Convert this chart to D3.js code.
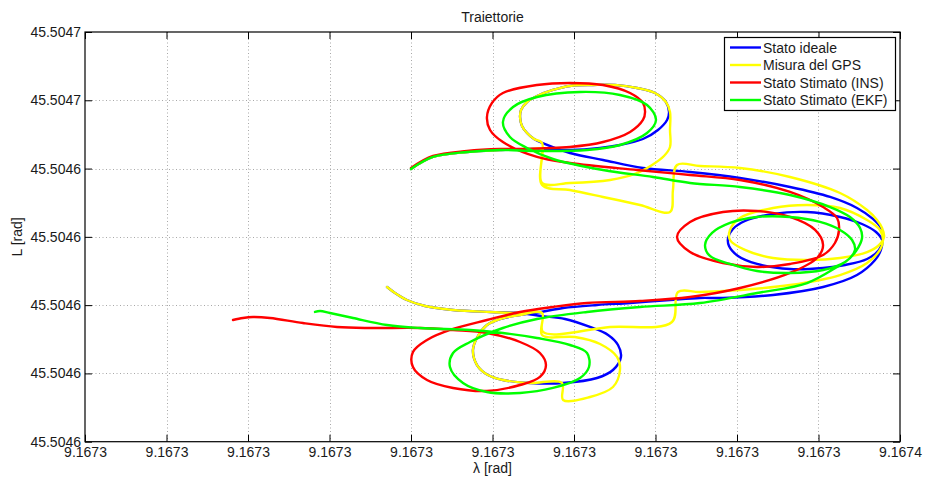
<!DOCTYPE html>
<html>
<head>
<meta charset="utf-8">
<title>Traiettorie</title>
<script src="https://cdn.jsdelivr.net/npm/d3@7"></script>
<style>
  html, body { margin: 0; padding: 0; background: #fff; }
  svg { display: block; font-family: "Liberation Sans", Arial, Helvetica, sans-serif; }
</style>
</head>
<body>
<svg id="chart" width="926" height="482"></svg>
<script>
// Axis ticks (values and their printed labels)
const lambdaTicks = [9.16730, 9.167305, 9.16731, 9.167315, 9.16732, 9.167325, 9.16733, 9.167335, 9.16734, 9.167345, 9.16735];
const lambdaTickLabels = ["9.1673", "9.1673", "9.1673", "9.1673", "9.1673", "9.1673", "9.1673", "9.1673", "9.1673", "9.1673", "9.1674"];
const latTicks = [45.50460, 45.50461, 45.50462, 45.50463, 45.50464, 45.50465, 45.50466];
const latTickLabels = ["45.5046", "45.5046", "45.5046", "45.5046", "45.5046", "45.5047", "45.5047"];

// Series names and colours
const seriesNames = ["Stato ideale", "Misura del GPS", "Stato Stimato (INS)", "Stato Stimato (EKF)"];
const seriesColors = ["#0000ff", "#ffff00", "#ff0000", "#00ff00"];

// Trajectories as [lambda (rad), L (rad)]
const statoIdeale = [
  [9.16732000, 45.50463994], [9.16732135, 45.50464170], [9.16732344, 45.50464243], [9.16732546, 45.50464272],
  [9.16732748, 45.50464287], [9.16732975, 45.50464272], [9.16733160, 45.50464302], [9.16733282, 45.50464345],
  [9.16733423, 45.50464433], [9.16733515, 45.50464565], [9.16733571, 45.50464712], [9.16733583, 45.50464829],
  [9.16733564, 45.50464975], [9.16733497, 45.50465107], [9.16733387, 45.50465180], [9.16733252, 45.50465224],
  [9.16733117, 45.50465224], [9.16732975, 45.50465210], [9.16732871, 45.50465151], [9.16732773, 45.50465063],
  [9.16732712, 45.50464975], [9.16732675, 45.50464858], [9.16732669, 45.50464756], [9.16732681, 45.50464624],
  [9.16732712, 45.50464521], [9.16732755, 45.50464433], [9.16732804, 45.50464375], [9.16732975, 45.50464228],
  [9.16733178, 45.50464126], [9.16733423, 45.50464009], [9.16733712, 45.50463950], [9.16734018, 45.50463862],
  [9.16734325, 45.50463730], [9.16734571, 45.50463584], [9.16734736, 45.50463423], [9.16734834, 45.50463262],
  [9.16734883, 45.50463130], [9.16734896, 45.50463013], [9.16734871, 45.50462808], [9.16734798, 45.50462676],
  [9.16734663, 45.50462588], [9.16734528, 45.50462544], [9.16734325, 45.50462529], [9.16734123, 45.50462603],
  [9.16734006, 45.50462720], [9.16733951, 45.50462866], [9.16733945, 45.50462983], [9.16733975, 45.50463115],
  [9.16734049, 45.50463232], [9.16734221, 45.50463335], [9.16734430, 45.50463364], [9.16734632, 45.50463291],
  [9.16734767, 45.50463188], [9.16734853, 45.50463071], [9.16734890, 45.50462954], [9.16734883, 45.50462808],
  [9.16734847, 45.50462661], [9.16734736, 45.50462441], [9.16734528, 45.50462266], [9.16734221, 45.50462149],
  [9.16733914, 45.50462105], [9.16733773, 45.50462105], [9.16733589, 45.50462075], [9.16733344, 45.50462031],
  [9.16733141, 45.50462002], [9.16732933, 45.50461958], [9.16732798, 45.50461900], [9.16732669, 45.50461856],
  [9.16732546, 45.50461797], [9.16732466, 45.50461709], [9.16732411, 45.50461548], [9.16732380, 45.50461343],
  [9.16732405, 45.50461123], [9.16732472, 45.50460977], [9.16732564, 45.50460904], [9.16732730, 45.50460860],
  [9.16732933, 45.50460860], [9.16733141, 45.50460933], [9.16733239, 45.50461050], [9.16733288, 45.50461241],
  [9.16733270, 45.50461416], [9.16733209, 45.50461563], [9.16733098, 45.50461680], [9.16732945, 45.50461797],
  [9.16732798, 45.50461841], [9.16732669, 45.50461885], [9.16732485, 45.50461900], [9.16732258, 45.50461929],
  [9.16732086, 45.50461987], [9.16731975, 45.50462075], [9.16731902, 45.50462178], [9.16731853, 45.50462266]
];

const misuraGPS = [
  [9.16732000, 45.50463994], [9.16732135, 45.50464170], [9.16732344, 45.50464243], [9.16732546, 45.50464272],
  [9.16732748, 45.50464287], [9.16732798, 45.50464287], [9.16732804, 45.50463789], [9.16732975, 45.50463789],
  [9.16733221, 45.50463833], [9.16733374, 45.50463921], [9.16733479, 45.50464053], [9.16733552, 45.50464184],
  [9.16733589, 45.50464316], [9.16733589, 45.50464565], [9.16733589, 45.50464829], [9.16733564, 45.50464975],
  [9.16733497, 45.50465107], [9.16733387, 45.50465180], [9.16733252, 45.50465224], [9.16733117, 45.50465224],
  [9.16732975, 45.50465210], [9.16732871, 45.50465151], [9.16732773, 45.50465063], [9.16732712, 45.50464975],
  [9.16732675, 45.50464858], [9.16732669, 45.50464756], [9.16732681, 45.50464624], [9.16732712, 45.50464521],
  [9.16732755, 45.50464433], [9.16732804, 45.50464375], [9.16732804, 45.50463760], [9.16732975, 45.50463686],
  [9.16733178, 45.50463584], [9.16733405, 45.50463467], [9.16733589, 45.50463364], [9.16733607, 45.50463686],
  [9.16733632, 45.50464053], [9.16733773, 45.50464038], [9.16734018, 45.50464009], [9.16734325, 45.50463877],
  [9.16734632, 45.50463642], [9.16734798, 45.50463393], [9.16734859, 45.50463247], [9.16734890, 45.50463130],
  [9.16734902, 45.50462998], [9.16734865, 45.50462866], [9.16734798, 45.50462778], [9.16734632, 45.50462690],
  [9.16734430, 45.50462661], [9.16734221, 45.50462690], [9.16734049, 45.50462808], [9.16733957, 45.50462954],
  [9.16733957, 45.50463101], [9.16734018, 45.50463276], [9.16734221, 45.50463423], [9.16734430, 45.50463467],
  [9.16734632, 45.50463423], [9.16734798, 45.50463247], [9.16734877, 45.50463101], [9.16734896, 45.50462954],
  [9.16734877, 45.50462808], [9.16734798, 45.50462617], [9.16734632, 45.50462441], [9.16734325, 45.50462295],
  [9.16734018, 45.50462222], [9.16733773, 45.50462192], [9.16733638, 45.50462192], [9.16733601, 45.50461753],
  [9.16733221, 45.50461680], [9.16732810, 45.50461607], [9.16732804, 45.50461885], [9.16732669, 45.50461856],
  [9.16732546, 45.50461797], [9.16732466, 45.50461709], [9.16732411, 45.50461548], [9.16732380, 45.50461343],
  [9.16732405, 45.50461123], [9.16732472, 45.50460977], [9.16732564, 45.50460904], [9.16732730, 45.50460860],
  [9.16732926, 45.50460860], [9.16732933, 45.50460611], [9.16733098, 45.50460655], [9.16733239, 45.50460801],
  [9.16733282, 45.50461050], [9.16733264, 45.50461241], [9.16733160, 45.50461431], [9.16733006, 45.50461533],
  [9.16732804, 45.50461563], [9.16732804, 45.50461885], [9.16732669, 45.50461885], [9.16732485, 45.50461900],
  [9.16732258, 45.50461929], [9.16732086, 45.50461987], [9.16731975, 45.50462075], [9.16731902, 45.50462178],
  [9.16731853, 45.50462266]
];

const statoINS = [
  [9.16732000, 45.50464009], [9.16732135, 45.50464184], [9.16732344, 45.50464258], [9.16732546, 45.50464287],
  [9.16732669, 45.50464287], [9.16732975, 45.50464316], [9.16733178, 45.50464389], [9.16733344, 45.50464536],
  [9.16733423, 45.50464712], [9.16733436, 45.50464829], [9.16733423, 45.50464961], [9.16733344, 45.50465107],
  [9.16733178, 45.50465224], [9.16732975, 45.50465254], [9.16732773, 45.50465224], [9.16732564, 45.50465107],
  [9.16732497, 45.50464961], [9.16732466, 45.50464756], [9.16732485, 45.50464565], [9.16732564, 45.50464389],
  [9.16732773, 45.50464170], [9.16732975, 45.50464082], [9.16733387, 45.50463979], [9.16733712, 45.50463906],
  [9.16734018, 45.50463833], [9.16734325, 45.50463657], [9.16734528, 45.50463437], [9.16734614, 45.50463276],
  [9.16734626, 45.50463101], [9.16734601, 45.50462910], [9.16734528, 45.50462734], [9.16734325, 45.50462603],
  [9.16734123, 45.50462559], [9.16733914, 45.50462617], [9.16733712, 45.50462778], [9.16733632, 45.50462998],
  [9.16733712, 45.50463218], [9.16733914, 45.50463364], [9.16734123, 45.50463379], [9.16734325, 45.50463291],
  [9.16734479, 45.50463101], [9.16734528, 45.50462881], [9.16734491, 45.50462690], [9.16734325, 45.50462471],
  [9.16734018, 45.50462251], [9.16733712, 45.50462119], [9.16733405, 45.50462061], [9.16733080, 45.50462031],
  [9.16732871, 45.50461973], [9.16732669, 45.50461900], [9.16732466, 45.50461782], [9.16732258, 45.50461651],
  [9.16732098, 45.50461490], [9.16732012, 45.50461314], [9.16732012, 45.50461094], [9.16732098, 45.50460904],
  [9.16732258, 45.50460787], [9.16732466, 45.50460743], [9.16732669, 45.50460830], [9.16732791, 45.50460948],
  [9.16732828, 45.50461123], [9.16732791, 45.50461299], [9.16732669, 45.50461460], [9.16732466, 45.50461592],
  [9.16732258, 45.50461636], [9.16732055, 45.50461665], [9.16731748, 45.50461665], [9.16731546, 45.50461680],
  [9.16731337, 45.50461738], [9.16731135, 45.50461812], [9.16731031, 45.50461826], [9.16730969, 45.50461812],
  [9.16730908, 45.50461782]
];

const statoEKF = [
  [9.16732000, 45.50463994], [9.16732135, 45.50464170], [9.16732344, 45.50464243], [9.16732546, 45.50464272],
  [9.16732773, 45.50464258], [9.16733080, 45.50464272], [9.16733282, 45.50464345], [9.16733448, 45.50464521],
  [9.16733503, 45.50464712], [9.16733448, 45.50464931], [9.16733282, 45.50465078], [9.16733037, 45.50465122],
  [9.16732773, 45.50465048], [9.16732626, 45.50464902], [9.16732564, 45.50464682], [9.16732607, 45.50464463],
  [9.16732712, 45.50464302], [9.16732871, 45.50464140], [9.16733178, 45.50463979], [9.16733485, 45.50463877],
  [9.16733712, 45.50463789], [9.16734018, 45.50463730], [9.16734325, 45.50463613], [9.16734571, 45.50463437],
  [9.16734693, 45.50463291], [9.16734755, 45.50463130], [9.16734767, 45.50462983], [9.16734730, 45.50462793],
  [9.16734663, 45.50462632], [9.16734528, 45.50462515], [9.16734325, 45.50462471], [9.16734123, 45.50462500],
  [9.16733957, 45.50462603], [9.16733834, 45.50462720], [9.16733804, 45.50462881], [9.16733847, 45.50463057],
  [9.16733957, 45.50463203], [9.16734123, 45.50463291], [9.16734325, 45.50463291], [9.16734509, 45.50463218],
  [9.16734632, 45.50463101], [9.16734706, 45.50462954], [9.16734724, 45.50462808], [9.16734687, 45.50462676],
  [9.16734614, 45.50462559], [9.16734430, 45.50462324], [9.16734123, 45.50462178], [9.16733773, 45.50462031],
  [9.16733405, 45.50461973], [9.16733080, 45.50461900], [9.16732773, 45.50461797], [9.16732564, 45.50461665],
  [9.16732362, 45.50461460], [9.16732258, 45.50461299], [9.16732239, 45.50461094], [9.16732319, 45.50460860],
  [9.16732466, 45.50460728], [9.16732669, 45.50460713], [9.16732871, 45.50460787], [9.16733037, 45.50460933],
  [9.16733092, 45.50461094], [9.16733080, 45.50461299], [9.16732975, 45.50461416], [9.16732773, 45.50461519],
  [9.16732564, 45.50461592], [9.16732362, 45.50461636], [9.16732055, 45.50461665], [9.16731853, 45.50461709],
  [9.16731644, 45.50461812], [9.16731503, 45.50461885], [9.16731442, 45.50461914], [9.16731411, 45.50461900]
];

const seriesData = [statoIdeale, misuraGPS, statoINS, statoEKF];

// ---- layout ----
const W = 926, H = 482;
const plot = { left: 85, top: 32, right: 900, bottom: 441.7 };

const svg = d3.select("#chart");
svg.append("rect").attr("width", W).attr("height", H).attr("fill", "#fff");

const x = d3.scaleLinear()
  .domain([lambdaTicks[0], lambdaTicks[lambdaTicks.length - 1]])
  .range([plot.left, plot.right]);
const y = d3.scaleLinear()
  .domain([latTicks[0], latTicks[latTicks.length - 1]])
  .range([plot.bottom, plot.top]);

// dotted grid
const grid = svg.append("g")
  .attr("stroke", "#a8a8a8")
  .attr("stroke-width", 1)
  .attr("stroke-dasharray", "1,2.5");
grid.selectAll("line.gx").data(lambdaTicks.slice(1, -1)).join("line")
  .attr("x1", d => Math.round(x(d)) + 0.5).attr("x2", d => Math.round(x(d)) + 0.5)
  .attr("y1", plot.top).attr("y2", plot.bottom);
grid.selectAll("line.gy").data(latTicks.slice(1, -1)).join("line")
  .attr("y1", d => Math.round(y(d)) + 0.5).attr("y2", d => Math.round(y(d)) + 0.5)
  .attr("x1", plot.left).attr("x2", plot.right);

// trajectories
svg.append("clipPath").attr("id", "plotClip")
  .append("rect")
  .attr("x", plot.left).attr("y", plot.top)
  .attr("width", plot.right - plot.left).attr("height", plot.bottom - plot.top);

const line = d3.line()
  .x(d => x(d[0]))
  .y(d => y(d[1]))
  .curve(d3.curveCatmullRom.alpha(0.5));

svg.append("g").attr("clip-path", "url(#plotClip)")
  .selectAll("path").data(seriesData).join("path")
  .attr("d", line)
  .attr("fill", "none")
  .attr("stroke", (d, i) => seriesColors[i])
  .attr("stroke-width", 2.4)
  .attr("stroke-linejoin", "round")
  .attr("stroke-linecap", "round");

// axes: labelled bottom/left, tick-only top/right, ticks pointing inwards
const tickLen = 7;
const axisBottom = d3.axisBottom(x).tickValues(lambdaTicks)
  .tickFormat((d, i) => lambdaTickLabels[i])
  .tickSizeInner(-tickLen).tickSizeOuter(0).tickPadding(5);
const axisLeft = d3.axisLeft(y).tickValues(latTicks)
  .tickFormat((d, i) => latTickLabels[i])
  .tickSizeInner(-tickLen).tickSizeOuter(0).tickPadding(4);
const axisTop = d3.axisTop(x).tickValues(lambdaTicks).tickFormat("")
  .tickSizeInner(-tickLen).tickSizeOuter(0);
const axisRight = d3.axisRight(y).tickValues(latTicks).tickFormat("")
  .tickSizeInner(-tickLen).tickSizeOuter(0);

function styleAxis(g) {
  g.select(".domain").remove();
  g.selectAll(".tick line").attr("stroke", "#000");
  g.selectAll(".tick text")
    .attr("fill", "#1a1a1a")
    .attr("font-size", 14)
    .attr("font-family", "'Liberation Sans', Arial, sans-serif");
}

svg.append("g").attr("transform", `translate(0,${plot.bottom})`).call(axisBottom).call(styleAxis);
svg.append("g").attr("transform", `translate(${plot.left},0)`).call(axisLeft).call(styleAxis);
svg.append("g").attr("transform", `translate(0,${plot.top})`).call(axisTop).call(styleAxis);
svg.append("g").attr("transform", `translate(${plot.right},0)`).call(axisRight).call(styleAxis);

// axes box
svg.append("rect")
  .attr("x", plot.left).attr("y", plot.top)
  .attr("width", plot.right - plot.left).attr("height", plot.bottom - plot.top)
  .attr("fill", "none").attr("stroke", "#000").attr("stroke-width", 1.2);

// title and axis labels
svg.append("text")
  .attr("x", (plot.left + plot.right) / 2).attr("y", 22)
  .attr("text-anchor", "middle").attr("font-size", 14).attr("fill", "#1a1a1a")
  .text("Traiettorie");
svg.append("text")
  .attr("x", (plot.left + plot.right) / 2).attr("y", 473)
  .attr("text-anchor", "middle").attr("font-size", 14).attr("fill", "#1a1a1a")
  .text("λ [rad]");
svg.append("text")
  .attr("transform", `translate(22,${(plot.top + plot.bottom) / 2}) rotate(-90)`)
  .attr("text-anchor", "middle").attr("font-size", 14).attr("fill", "#1a1a1a")
  .text("L [rad]");

// legend
const legend = svg.append("g");
legend.append("rect")
  .attr("x", 724.5).attr("y", 37.5).attr("width", 171).attr("height", 73)
  .attr("fill", "#fff").attr("stroke", "#000").attr("stroke-width", 1.2);
const rowY = [47.5, 65, 82.5, 100];
seriesNames.forEach((name, i) => {
  legend.append("line")
    .attr("x1", 730).attr("x2", 761)
    .attr("y1", rowY[i]).attr("y2", rowY[i])
    .attr("stroke", seriesColors[i]).attr("stroke-width", 2.4);
  legend.append("text")
    .attr("x", 763).attr("y", rowY[i] + 5)
    .attr("font-size", 14).attr("fill", "#1a1a1a")
    .text(name);
});
</script>
</body>
</html>
